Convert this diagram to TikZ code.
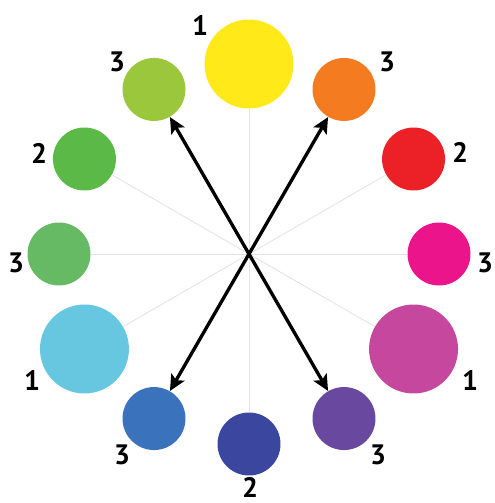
\documentclass[tikz,border=0pt]{standalone}
\usepackage{fontspec}
\setmainfont{PT Sans}
\usetikzlibrary{arrows.meta}
\definecolor{cyel}{HTML}{FFE919}
\definecolor{corg}{HTML}{F47B20}
\definecolor{cred}{HTML}{EC2127}
\definecolor{cmag}{HTML}{EC148A}
\definecolor{cpnk}{HTML}{C6479E}
\definecolor{cprp}{HTML}{6948A0}
\definecolor{cdbl}{HTML}{3B469F}
\definecolor{cblu}{HTML}{3A72BB}
\definecolor{ccya}{HTML}{67C7E0}
\definecolor{cgrb}{HTML}{66BA64}
\definecolor{cgrn}{HTML}{5BB947}
\definecolor{cygr}{HTML}{9BC73C}
\begin{document}
\begin{tikzpicture}[x=0.02cm, y=0.02cm,
    big/.style={circle, inner sep=0pt, minimum size=1.78cm},
    small/.style={circle, inner sep=0pt, minimum size=1.26cm},
    spoke/.style={draw=black!11, line width=0.5pt},
    arr/.style={-{Stealth[length=0.32cm, width=0.3cm, inset=0.07cm]}, line width=1.9pt},
    num/.style={font=\fontsize{16}{16}\selectfont\bfseries, inner sep=0pt}]
    \useasboundingbox (-249,-249) rectangle (245,254);
    \coordinate (O) at (0,0);
    \node[big, fill=cyel] (c90) at (90:190) {};
    \node[small, fill=corg] (c60) at (60:190) {};
    \node[small, fill=cred] (c30) at (30:190) {};
    \node[small, fill=cmag] (c0) at (0:190) {};
    \node[big, fill=cpnk] (c330) at (-30:190) {};
    \node[small, fill=cprp] (c300) at (-60:190) {};
    \node[small, fill=cdbl] (c270) at (-90:190) {};
    \node[small, fill=cblu] (c240) at (-120:190) {};
    \node[big, fill=ccya] (c210) at (-150:190) {};
    \node[small, fill=cgrb] (c180) at (180:190) {};
    \node[small, fill=cgrn] (c150) at (150:190) {};
    \node[small, fill=cygr] (c120) at (120:190) {};
    \foreach \a in {0,30,...,330} \draw[spoke] (O) -- (c\a);
    \foreach \a in {60,120,240,300} \draw[arr] (O) -- (c\a);
    % weights
    \node[num] (n90) at (-49,229) {1};
    \node[num] (n60) at (138,192) {3};
    \node[num] (n30) at (211,102) {2};
    \node[num] (n0) at (236,-9) {3};
    \node[num] (n330) at (221,-126) {1};
    \node[num] (n300) at (129,-201) {3};
    \node[num] (n270) at (1,-233) {2};
    \node[num] (n240) at (-127,-201) {3};
    \node[num] (n210) at (-217,-126) {1};
    \node[num] (n180) at (-233,-9) {3};
    \node[num] (n150) at (-210,101) {2};
    \node[num] (n120) at (-132,192) {3};
\end{tikzpicture}
\end{document}
